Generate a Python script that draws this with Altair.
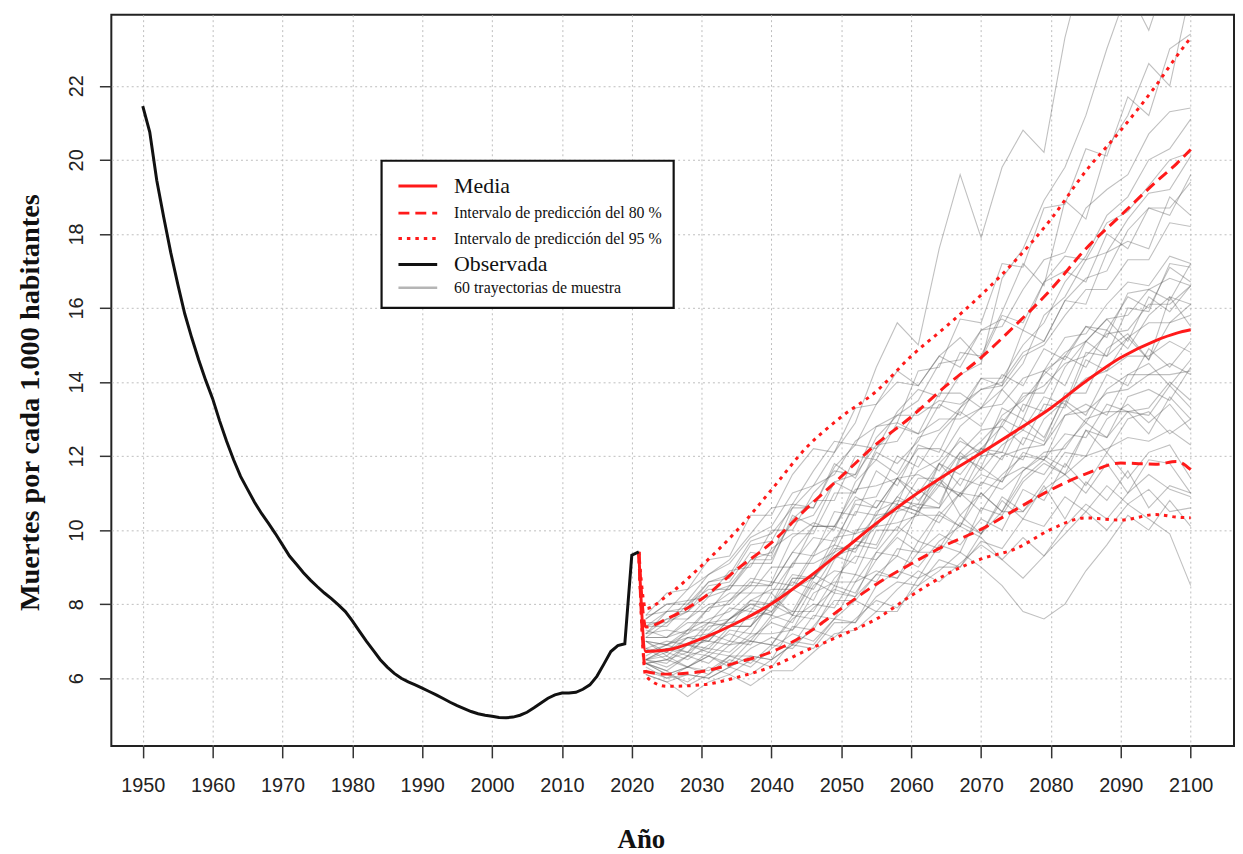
import altair as alt
import pandas as pd

# ---------------- data ----------------
obs_years = list(range(1950, 2022))
obs_values = [21.45, 20.75, 19.45, 18.45, 17.5, 16.65, 15.85, 15.2, 14.6, 14.05,
              13.55, 12.95, 12.4, 11.9, 11.45, 11.1, 10.75, 10.45, 10.18, 9.9,
              9.6, 9.3, 9.08, 8.85, 8.65, 8.47, 8.3, 8.15, 7.98, 7.8,
              7.55, 7.27, 7.0, 6.75, 6.5, 6.3, 6.13, 6.0, 5.9, 5.82,
              5.73, 5.64, 5.55, 5.45, 5.35, 5.26, 5.18, 5.1, 5.04, 5.0,
              4.97, 4.94, 4.93, 4.95, 5.0, 5.08, 5.2, 5.33, 5.46, 5.55,
              5.6, 5.6, 5.62, 5.7, 5.82, 6.05, 6.38, 6.72, 6.88, 6.93,
              9.32, 9.41]

band_years = [2021, 2022, 2025, 2030, 2035, 2040, 2045, 2050, 2055, 2060,
              2065, 2070, 2075, 2080, 2085, 2090, 2095, 2098, 2100]
mean_values = [9.41, 6.72, 6.76, 7.07, 7.49, 8.01, 8.68, 9.42, 10.18, 10.88,
               11.5, 12.08, 12.68, 13.3, 14.02, 14.66, 15.12, 15.32, 15.41]
up80_values = [9.41, 7.38, 7.60, 8.14, 8.93, 9.66, 10.58, 11.45, 12.32, 13.06,
               13.9, 14.66, 15.55, 16.5, 17.6, 18.5, 19.4, 19.9, 20.28]
lo80_values = [9.41, 6.18, 6.11, 6.18, 6.42, 6.71, 7.20, 7.88, 8.54, 9.09,
               9.6, 10.02, 10.56, 11.09, 11.52, 11.81, 11.78, 11.85, 11.63]
up95_values = [9.41, 7.88, 8.22, 9.04, 9.98, 11.09, 12.23, 13.06, 13.75, 14.7,
               15.5, 16.35, 17.3, 18.4, 19.7, 20.8, 22.0, 22.8, 23.3]
lo95_values = [9.41, 6.05, 5.78, 5.82, 6.02, 6.31, 6.75, 7.16, 7.60, 8.23,
               8.8, 9.22, 9.5, 10.02, 10.33, 10.27, 10.42, 10.35, 10.33]

traj_years = list(range(2022, 2101, 3))
trajectories = {
    "T01": [6.3, 6.0, 6.1, 6.0, 6.3, 6.6, 6.5, 6.9, 7.3, 7.1, 7.6, 8.1, 7.9, 8.5, 8.9, 9.4, 9.0, 8.5, 7.8, 7.6, 8.0, 8.9, 9.6, 10.4, 10.0, 10.8, 10.1],
    "T02": [6.4, 6.2, 5.8, 6.1, 6.5, 6.3, 6.8, 7.2, 7.0, 7.6, 8.1, 7.8, 8.4, 8.9, 8.6, 9.1, 9.6, 9.2, 9.8, 9.3, 9.9, 10.5, 10.0, 10.7, 10.3, 9.9, 8.5],
    "T03": [6.5, 6.6, 6.3, 6.7, 6.6, 7.1, 7.5, 7.3, 7.9, 8.4, 8.2, 8.8, 9.3, 9.0, 9.7, 10.1, 9.8, 9.2, 8.7, 9.3, 10.1, 10.7, 10.3, 11.0, 11.5, 11.1, 10.9],
    "T04": [6.1, 5.9, 6.1, 6.0, 6.3, 6.1, 6.5, 6.9, 6.8, 7.5, 7.5, 8.2, 8.6, 8.5, 9.2, 9.0, 9.7, 9.5, 10.3, 10.1, 10.9, 10.5, 11.2, 10.7, 11.1, 10.5, 10.6],
    "T05": [6.2, 6.0, 6.3, 6.1, 6.6, 6.4, 6.9, 6.8, 7.4, 8.1, 8.1, 8.8, 8.7, 9.4, 9.9, 9.6, 10.3, 10.0, 11.1, 10.8, 11.8, 11.2, 12.1, 11.4, 12.1, 12.3, 11.4],
    "T06": [6.4, 6.5, 6.3, 6.6, 6.4, 7.0, 6.9, 7.6, 8.0, 7.9, 8.8, 8.6, 9.5, 9.4, 9.4, 10.2, 9.9, 10.8, 10.3, 11.2, 10.3, 11.3, 10.8, 11.6, 10.6, 11.2, 11.0],
    "T07": [6.4, 6.5, 6.7, 6.6, 7.0, 6.9, 7.6, 7.8, 7.8, 8.7, 9.3, 9.2, 9.9, 10.5, 10.2, 11.0, 11.5, 11.3, 12.1, 11.9, 13.1, 13.4, 13.1, 14.2, 14.5, 13.9, 14.6],
    "T08": [6.7, 6.9, 6.7, 7.4, 7.5, 7.6, 7.8, 8.7, 8.7, 9.5, 9.5, 10.2, 10.7, 10.5, 11.2, 11.0, 10.5, 11.4, 11.7, 11.5, 12.3, 12.9, 12.5, 13.2, 12.6, 13.6, 13.0],
    "T09": [6.5, 6.8, 6.9, 6.7, 7.3, 7.2, 8.1, 7.8, 8.8, 8.5, 9.6, 9.5, 10.5, 10.7, 10.6, 11.4, 11.2, 12.0, 12.2, 12.3, 13.1, 13.2, 13.7, 13.8, 14.2, 14.2, 14.3],
    "T10": [7.0, 6.9, 7.2, 7.5, 7.6, 8.1, 8.0, 9.1, 9.1, 9.4, 10.5, 10.4, 11.4, 11.0, 11.8, 11.2, 12.2, 11.9, 13.0, 12.5, 13.6, 14.1, 14.3, 14.7, 14.7, 15.1, 14.8],
    "T11": [6.7, 6.8, 6.7, 7.1, 7.4, 7.4, 8.0, 8.6, 8.4, 9.3, 9.1, 10.3, 10.6, 10.4, 11.8, 12.4, 12.1, 13.1, 13.5, 14.2, 14.8, 15.1, 15.7, 15.8, 16.5, 16.8, 16.6],
    "T12": [7.1, 7.1, 7.3, 7.9, 8.0, 8.6, 8.5, 9.4, 10.1, 10.1, 11.1, 11.2, 11.4, 12.2, 12.2, 11.9, 12.4, 13.0, 12.7, 13.6, 13.4, 14.8, 14.7, 15.2, 15.6, 15.6, 16.1],
    "T13": [7.4, 7.6, 7.6, 8.2, 8.4, 9.1, 9.1, 10.4, 10.1, 11.3, 11.0, 12.2, 12.8, 12.6, 13.0, 13.0, 13.3, 13.4, 14.1, 14.3, 15.2, 15.3, 16.1, 16.7, 16.6, 17.4, 17.2],
    "T14": [7.2, 7.8, 7.8, 8.5, 8.6, 9.4, 9.3, 10.6, 10.6, 11.8, 11.4, 12.5, 13.1, 13.1, 13.5, 13.4, 13.8, 13.9, 14.7, 15.0, 15.8, 16.5, 16.5, 17.3, 17.3, 18.3, 18.2],
    "T15": [7.7, 7.8, 8.4, 8.8, 9.2, 9.9, 10.6, 10.7, 11.6, 12.4, 12.3, 13.4, 14.0, 13.9, 14.7, 14.4, 15.4, 15.7, 15.4, 16.7, 17.4, 17.3, 18.3, 18.6, 19.3, 20.0, 20.2],
    "T16": [6.5, 6.4, 6.9, 7.0, 6.9, 7.4, 8.0, 7.7, 8.6, 8.3, 10.0, 10.1, 10.9, 11.6, 11.9, 12.8, 13.3, 13.8, 14.5, 15.8, 16.3, 17.3, 17.5, 18.4, 19.1, 19.2, 20.1],
    "T17": [7.0, 6.9, 7.3, 7.6, 7.8, 8.3, 8.3, 9.1, 9.8, 9.7, 10.7, 10.6, 11.4, 10.8, 11.4, 10.4, 11.0, 10.5, 11.4, 11.9, 11.5, 12.0, 12.2, 12.5, 12.4, 12.7, 12.3],
    "T18": [6.4, 6.1, 6.3, 6.2, 6.6, 6.6, 6.5, 7.4, 7.3, 8.3, 8.2, 9.4, 9.3, 10.6, 10.6, 12.0, 11.7, 12.9, 13.6, 13.9, 14.5, 14.7, 15.3, 15.4, 16.1, 16.1, 16.6],
    "T19": [7.3, 7.1, 7.6, 8.0, 8.1, 8.7, 8.6, 9.8, 10.2, 10.0, 11.3, 11.9, 11.5, 12.5, 12.7, 13.3, 13.8, 14.0, 14.8, 15.1, 16.2, 16.8, 17.0, 18.1, 18.7, 18.7, 19.4],
    "T20": [6.5, 6.3, 6.6, 6.8, 6.7, 7.2, 7.2, 7.3, 8.3, 8.6, 8.6, 9.4, 10.1, 9.7, 10.5, 10.1, 11.3, 11.1, 11.6, 12.1, 12.2, 13.0, 13.2, 13.2, 13.3, 14.0, 13.5],
    "T21": [7.0, 6.6, 7.1, 7.0, 7.6, 8.0, 7.8, 8.4, 8.7, 9.4, 9.7, 10.4, 10.5, 11.4, 11.4, 12.1, 12.7, 12.8, 13.7, 13.7, 14.7, 15.5, 15.4, 16.3, 16.0, 17.1, 16.7],
    "T22": [6.8, 6.7, 7.1, 7.2, 7.6, 8.0, 8.0, 8.8, 8.7, 9.8, 9.9, 10.1, 10.9, 10.6, 11.4, 10.9, 11.7, 11.3, 12.5, 12.3, 13.4, 12.9, 13.8, 14.2, 14.2, 14.5, 14.2],
    "T23": [6.1, 5.9, 5.5, 5.9, 6.1, 5.8, 6.2, 6.2, 6.7, 7.2, 7.3, 7.8, 7.8, 8.7, 9.0, 9.0, 9.9, 10.5, 10.5, 11.3, 12.1, 12.0, 13.0, 13.4, 12.9, 13.4, 12.7],
    "T24": [7.6, 8.0, 8.0, 8.6, 8.8, 9.7, 9.9, 10.6, 11.2, 11.5, 12.4, 12.8, 13.1, 13.5, 14.5, 14.6, 15.4, 15.5, 16.5, 17.3, 17.5, 18.7, 19.2, 19.6, 20.7, 21.3, 21.4],
    "T25": [7.1, 7.1, 7.5, 7.5, 8.1, 8.5, 8.5, 9.4, 9.3, 10.5, 10.4, 11.6, 11.2, 12.3, 12.1, 13.3, 14.1, 14.1, 15.0, 15.6, 16.7, 17.4, 18.5, 19.0, 20.0, 20.3, 21.1],
    "T26": [6.8, 6.5, 6.9, 6.8, 7.4, 7.4, 8.3, 7.7, 8.7, 9.3, 9.5, 10.1, 10.2, 10.4, 10.4, 11.0, 10.9, 11.5, 12.0, 11.9, 12.6, 12.5, 13.4, 13.2, 13.1, 13.9, 13.3],
    "T27": [7.6, 8.0, 8.1, 8.8, 9.1, 9.8, 10.1, 11.0, 11.2, 12.1, 12.9, 14.4, 15.6, 15.0, 17.6, 19.6, 17.9, 19.8, 20.8, 20.2, 23.3, 25.5, 26.5, 27.0, 27.8, 28.5, 29.0],
    "T28": [7.2, 7.6, 7.8, 8.3, 8.5, 9.2, 9.4, 10.2, 10.4, 11.3, 11.5, 12.3, 12.4, 13.3, 13.3, 14.2, 14.5, 16.8, 17.6, 18.9, 19.8, 21.2, 23.0, 24.6, 23.5, 25.2, 26.0],
    "T29": [7.5, 7.5, 8.1, 8.2, 8.9, 9.0, 10.0, 10.0, 11.0, 11.6, 11.5, 12.8, 12.9, 14.3, 14.4, 15.7, 15.6, 17.2, 17.1, 18.7, 18.8, 20.3, 20.1, 21.7, 21.2, 23.0, 23.4],
    "T30": [7.4, 7.8, 7.9, 8.6, 8.7, 9.6, 9.7, 10.7, 10.6, 11.7, 12.3, 12.2, 13.2, 13.8, 13.6, 14.8, 14.7, 15.9, 17.2, 16.6, 18.9, 18.4, 20.3, 21.2, 22.6, 22.0, 24.6],
    "T31": [7.0, 6.7, 7.3, 7.3, 7.9, 7.8, 8.6, 8.5, 9.4, 10.1, 9.9, 10.8, 10.7, 12.0, 11.6, 12.5, 12.0, 13.3, 13.0, 14.3, 13.9, 15.1, 15.7, 15.1, 16.3, 15.9, 16.6],
    "T32": [6.5, 6.8, 6.6, 7.2, 7.0, 7.8, 7.7, 8.4, 8.1, 9.2, 9.7, 9.6, 10.7, 10.5, 11.3, 10.9, 12.0, 12.1, 11.9, 13.0, 13.5, 13.1, 14.2, 13.9, 14.9, 14.4, 15.1],
    "T33": [7.1, 7.5, 7.8, 7.8, 8.5, 8.5, 9.5, 9.9, 9.9, 11.0, 11.0, 12.1, 11.8, 12.4, 13.4, 13.1, 14.1, 13.9, 15.4, 15.1, 16.2, 16.1, 17.5, 17.8, 17.6, 19.0, 18.5],
    "T34": [6.4, 6.2, 6.6, 6.4, 6.9, 7.0, 6.9, 7.7, 7.6, 8.5, 8.3, 9.2, 9.8, 9.4, 10.4, 10.1, 11.0, 10.5, 11.6, 12.0, 11.7, 12.7, 12.1, 13.0, 13.2, 12.6, 13.0],
    "T35": [6.8, 7.0, 6.9, 7.5, 7.4, 8.1, 8.4, 8.4, 9.3, 9.6, 10.8, 10.9, 12.0, 11.7, 12.6, 13.2, 12.8, 13.8, 13.2, 14.3, 14.7, 14.4, 15.4, 14.9, 15.8, 16.3, 15.5],
    "T36": [6.5, 6.7, 6.5, 6.9, 7.2, 7.0, 7.7, 7.5, 8.5, 8.9, 8.8, 10.0, 10.0, 11.1, 10.7, 11.9, 12.2, 12.1, 13.4, 13.2, 14.4, 15.1, 14.7, 16.0, 15.9, 17.2, 17.1],
    "T37": [7.4, 7.4, 8.0, 8.4, 8.4, 9.2, 9.2, 10.3, 10.8, 10.8, 12.0, 11.9, 12.9, 12.6, 13.7, 13.7, 13.3, 14.2, 13.9, 14.9, 14.6, 15.5, 15.2, 16.4, 16.5, 16.2, 17.2],
    "T38": [6.2, 6.1, 5.9, 6.3, 6.1, 6.5, 6.3, 7.0, 6.9, 7.6, 7.5, 8.5, 8.9, 8.7, 9.6, 9.4, 10.6, 10.4, 11.3, 11.8, 11.5, 12.7, 12.5, 13.6, 13.8, 13.5, 14.4],
    "T39": [7.7, 8.3, 8.4, 9.2, 9.3, 10.4, 10.4, 11.5, 12.2, 12.1, 13.3, 13.4, 14.3, 13.9, 14.7, 15.2, 14.6, 15.8, 15.6, 16.7, 17.0, 16.7, 18.0, 17.6, 18.7, 18.5, 19.6],
    "T40": [6.4, 6.1, 6.3, 6.6, 6.3, 6.8, 7.1, 6.9, 7.7, 7.6, 8.6, 8.9, 8.7, 9.7, 9.5, 10.4, 9.9, 10.9, 10.5, 11.1, 11.5, 11.0, 11.8, 11.0, 11.9, 11.8, 11.0],
    "T41": [6.6, 6.9, 7.1, 7.0, 7.6, 7.9, 7.7, 8.7, 8.7, 9.6, 9.4, 10.5, 10.8, 10.7, 11.8, 11.5, 12.2, 12.8, 12.3, 13.4, 13.3, 14.6, 14.3, 15.2, 14.6, 15.6, 15.8],
    "T42": [7.2, 7.3, 7.2, 7.9, 8.3, 8.3, 9.0, 9.0, 10.1, 10.1, 10.9, 10.6, 11.4, 11.5, 11.2, 12.1, 11.6, 12.3, 12.7, 12.4, 13.7, 13.7, 14.9, 15.3, 14.6, 16.3, 16.1],
}

x_ticks = list(range(1950, 2101, 10))
y_ticks = list(range(6, 23, 2))

legend_labels = ["Media", "Intervalo de predicción del 80 %", "Intervalo de predicción del 95 %",
                 "Observada", "60 trayectorias de muestra"]

# ---------------- tables ----------------
obs_df = pd.DataFrame({"year": obs_years, "value": obs_values})
band_df = pd.DataFrame({"year": band_years, "mean": mean_values, "up80": up80_values,
                        "lo80": lo80_values, "up95": up95_values, "lo95": lo95_values})
traj_rows = []
for name, vals in trajectories.items():
    for yr, v in zip(traj_years, vals):
        traj_rows.append({"traj": name, "year": yr, "value": v})
traj_df = pd.DataFrame(traj_rows)

# ---------------- scales / axes ----------------
xs = alt.Scale(domain=[1945.5, 2106.2], nice=False, zero=False)
ys = alt.Scale(domain=[4.17, 23.92], nice=False, zero=False)

x_axis = alt.Axis(values=x_ticks, format="d", title="Año",
                  labelFont="Liberation Sans", labelFontSize=20, labelColor="#222",
                  labelPadding=18, labelFlush=False, labelOverlap=False,
                  tickSize=12, tickColor="#333", tickWidth=1.5,
                  grid=True, gridColor="#bdbdbd", gridDash=[2, 3], gridWidth=1,
                  domain=False,
                  titleFont="Liberation Serif", titleFontSize=27, titleFontWeight="bold",
                  titleColor="#111", titleX=533, titleY=94, titleAlign="center",
                  titleBaseline="middle")
y_axis = alt.Axis(values=y_ticks, format="d", title="Muertes por cada 1.000 habitantes",
                  labelFont="Liberation Sans", labelFontSize=20, labelColor="#222",
                  labelAngle=270, labelAlign="center", labelBaseline="bottom",
                  labelPadding=13, labelFlush=False, labelOverlap=False,
                  tickSize=12, tickColor="#333", tickWidth=1.5,
                  grid=True, gridColor="#bdbdbd", gridDash=[2, 3], gridWidth=1,
                  domain=False,
                  titleFont="Liberation Serif", titleFontSize=28.5, titleFontWeight="bold",
                  titleColor="#111", titleAngle=270, titleX=-82, titleY=390,
                  titleAlign="center", titleBaseline="middle")

X = alt.X("year:Q", scale=xs, axis=x_axis)
Y = alt.Y("value:Q", scale=ys, axis=y_axis)

RED = "#ff1a1a"

traj_layer = alt.Chart(traj_df).mark_line(clip=True, color="#5a5a5a", opacity=0.38,
                                           strokeWidth=1.1).encode(
    x=X, y=Y, detail="traj:N", order="year:Q")

def band_line(col, dash=None):
    kw = dict(clip=True, color=RED, strokeWidth=3, interpolate="monotone")
    if dash is not None:
        kw["strokeDash"] = dash
    return alt.Chart(band_df).transform_calculate(value=f"datum.{col}").mark_line(**kw).encode(
        x=X, y=Y, order="year:Q")

up95_layer = band_line("up95", [3.5, 5])
lo95_layer = band_line("lo95", [3.5, 5])
up80_layer = band_line("up80", [11, 6])
lo80_layer = band_line("lo80", [11, 6])
mean_layer = band_line("mean")

obs_layer = alt.Chart(obs_df).mark_line(color="#111", strokeWidth=3).encode(
    x=X, y=Y, order="year:Q")

# ---------------- legend box (pixel positioned) ----------------
one = pd.DataFrame({"k": [0]})
box = alt.Chart(one).mark_rect(fill="white", stroke="#111", strokeWidth=2.2).encode(
    x=alt.value(272), x2=alt.value(566), y=alt.value(147), y2=alt.value(295))

row_y = [172.3, 199.7, 225.3, 251.3, 274.7]
sample_styles = [
    dict(color=RED, strokeWidth=3),
    dict(color=RED, strokeWidth=3, strokeDash=[11, 6]),
    dict(color=RED, strokeWidth=3, strokeDash=[3.5, 5]),
    dict(color="#111", strokeWidth=3),
    dict(color="#b5b5b5", strokeWidth=2.5),
]
text_sizes = [22, 16, 16, 22, 16]

legend_layers = [box]
for i, lab in enumerate(legend_labels):
    legend_layers.append(
        alt.Chart(one).mark_rule(**sample_styles[i]).encode(
            x=alt.value(289), x2=alt.value(328), y=alt.value(row_y[i])))
    legend_layers.append(
        alt.Chart(pd.DataFrame({"t": [lab]})).mark_text(
            align="left", baseline="middle", font="Liberation Serif",
            fontSize=text_sizes[i], color="#111").encode(
            x=alt.value(345), y=alt.value(row_y[i]), text="t:N"))

chart = alt.layer(
    traj_layer, up95_layer, lo95_layer, up80_layer, lo80_layer, mean_layer, obs_layer,
    *legend_layers
).properties(
    width=1130, height=736,
    autosize=alt.AutoSizeParams(type="none"),
    padding={"left": 104, "top": 4, "right": 1, "bottom": 106},
    background="white",
).configure_view(stroke="#222", strokeWidth=2)

chart.save("out.html", embed_options={"renderer": "svg", "actions": False})
